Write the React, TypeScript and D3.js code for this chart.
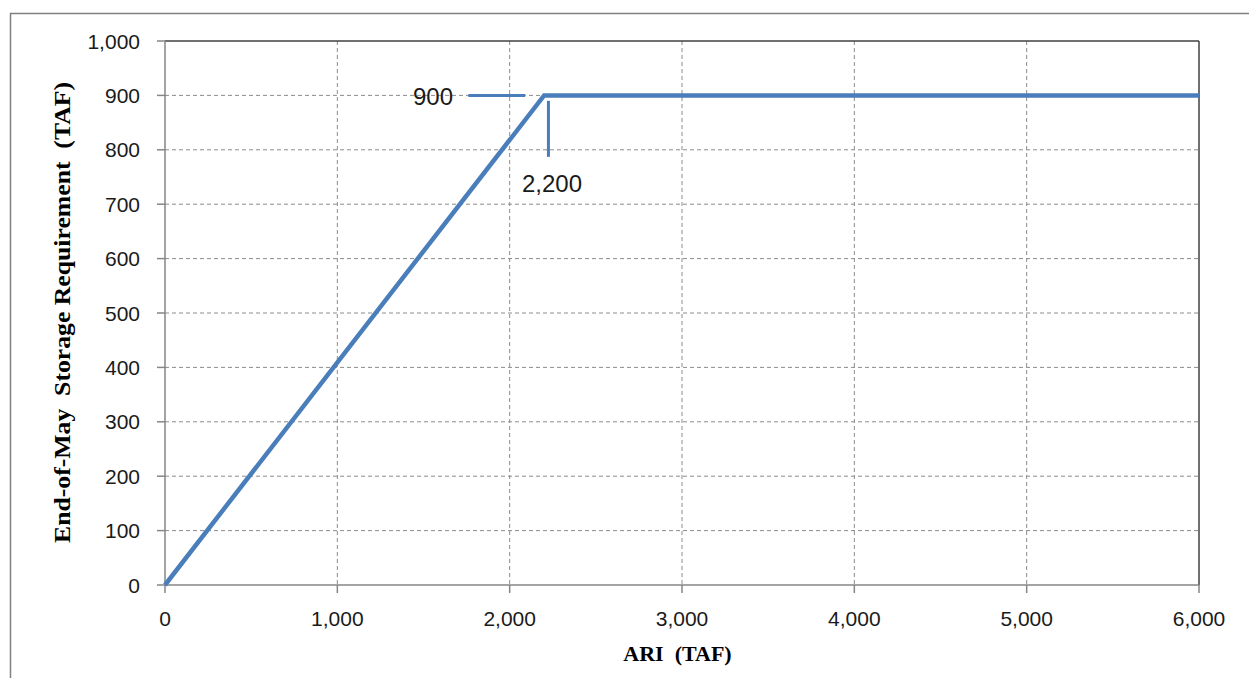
import React from "react";
import * as d3 from "d3";

const xTicks = [0, 1000, 2000, 3000, 4000, 5000, 6000];
const yTicks = [0, 100, 200, 300, 400, 500, 600, 700, 800, 900, 1000];
const curveX = [0, 2200, 6000];
const curveY = [0, 900, 900];
// annotation leader lines (data units)
const hLeaderX = [1760, 2090];
const hLeaderY = 900;
const vLeaderX = 2225;
const vLeaderY = [890, 787];
const labelTexts = ["900", "2,200"];
const xTitle = "ARI  (TAF)";
const yTitle = "End-of-May  Storage Requirement  (TAF)";

const W = 1249;
const H = 678;
const left = 165;
const right = 1199;
const top = 41;
const bottom = 585;

export default function App() {
  const x = d3.scaleLinear().domain([0, 6000]).range([left, right]);
  const y = d3.scaleLinear().domain([0, 1000]).range([bottom, top]);
  const fmt = d3.format(",");
  const pts: [number, number][] = curveX.map((v, i) => [v, curveY[i]]);
  const line = d3
    .line<[number, number]>()
    .x((d) => x(d[0]))
    .y((d) => y(d[1]));
  const tickFont = "'Liberation Sans', Arial, sans-serif";
  const titleFont = "'Liberation Serif', 'Times New Roman', serif";
  const blue = "#4a7ebb";
  return (
    <svg
      width={W}
      height={H}
      style={{ position: "absolute", left: 0, top: 0, background: "#fff" }}
    >
      <rect x={10.5} y={13.5} width={1400} height={800} fill="none" stroke="#808080" strokeWidth={1.5} />
      {/* grid */}
      {yTicks.slice(1, -1).map((t) => (
        <line key={"gy" + t} x1={left} x2={right} y1={y(t)} y2={y(t)} stroke="#8c8c8c" strokeWidth={1} strokeDasharray="4,3" />
      ))}
      {xTicks.slice(1, -1).map((t) => (
        <line key={"gx" + t} x1={x(t)} x2={x(t)} y1={top} y2={bottom} stroke="#8c8c8c" strokeWidth={1} strokeDasharray="4,3" />
      ))}
      {/* plot border top/right */}
      <line x1={left} x2={right} y1={top} y2={top} stroke="#404040" strokeWidth={1.5} />
      <line x1={right} x2={right} y1={top} y2={bottom} stroke="#404040" strokeWidth={1.5} />
      {/* axes */}
      <line x1={left} x2={left} y1={top} y2={bottom} stroke="#868686" strokeWidth={1.5} />
      <line x1={left} x2={right} y1={bottom} y2={bottom} stroke="#868686" strokeWidth={1.5} />
      {yTicks.map((t) => (
        <g key={"yt" + t}>
          <line x1={left - 8} x2={left} y1={y(t)} y2={y(t)} stroke="#868686" strokeWidth={1.5} />
          <text x={140} y={y(t)} dy="0.36em" textAnchor="end" fontFamily={tickFont} fontSize={21} fill="#1a1a1a">
            {fmt(t)}
          </text>
        </g>
      ))}
      {xTicks.map((t) => (
        <g key={"xt" + t}>
          <line x1={x(t)} x2={x(t)} y1={bottom} y2={bottom + 8} stroke="#868686" strokeWidth={1.5} />
          <text x={x(t)} y={626} textAnchor="middle" fontFamily={tickFont} fontSize={21} fill="#1a1a1a">
            {fmt(t)}
          </text>
        </g>
      ))}
      {/* curve */}
      <path d={line(pts) || ""} fill="none" stroke={blue} strokeWidth={4.5} />
      {/* annotations */}
      <line x1={x(hLeaderX[0])} x2={x(hLeaderX[1])} y1={y(hLeaderY)} y2={y(hLeaderY)} stroke={blue} strokeWidth={3} />
      <line x1={x(vLeaderX)} x2={x(vLeaderX)} y1={y(vLeaderY[0])} y2={y(vLeaderY[1])} stroke={blue} strokeWidth={3} />
      <text x={453} y={105} textAnchor="end" fontFamily={tickFont} fontSize={24} fill="#1a1a1a">
        {labelTexts[0]}
      </text>
      <text x={552} y={192} textAnchor="middle" fontFamily={tickFont} fontSize={24} fill="#1a1a1a">
        {labelTexts[1]}
      </text>
      {/* titles */}
      <text
        x={677.5}
        y={661}
        textAnchor="middle"
        fontFamily={titleFont}
        fontWeight="bold"
        fontSize={22}
        fill="#000"
        style={{ whiteSpace: "pre" }}
      >
        {xTitle}
      </text>
      <text
        transform={`translate(70, 312.5) rotate(-90)`}
        textAnchor="middle"
        fontFamily={titleFont}
        fontWeight="bold"
        fontSize={24}
        fill="#000"
        textLength={461}
        lengthAdjust="spacingAndGlyphs"
        style={{ whiteSpace: "pre" }}
      >
        {yTitle}
      </text>
    </svg>
  );
}
